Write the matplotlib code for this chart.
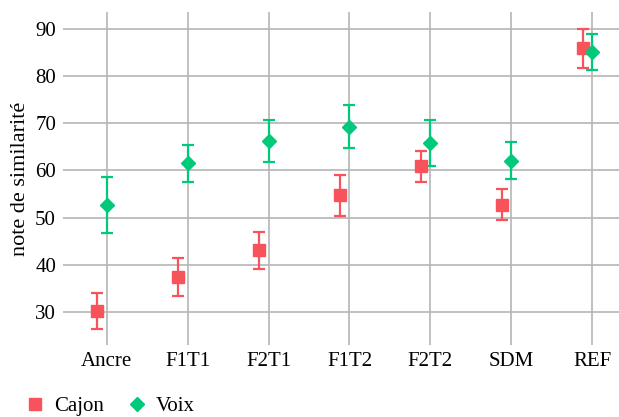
import matplotlib
matplotlib.use('Agg')
import matplotlib.pyplot as plt
import numpy as np

plt.rcParams['font.family'] = ['Liberation Serif', 'DejaVu Serif']

categories = ['Ancre', 'F1T1', 'F2T1', 'F1T2', 'F2T2', 'SDM', 'REF']
cajon_mean = [30.2, 37.4, 43.1, 54.7, 60.9, 52.7, 85.9]
cajon_err = [3.8, 4.0, 3.9, 4.4, 3.3, 3.3, 4.2]
voix_mean = [52.7, 61.5, 66.3, 69.3, 65.8, 62.1, 85.1]
voix_err = [6.0, 3.9, 4.4, 4.5, 4.85, 3.85, 3.9]

red = '#F8535A'
green = '#00C979'
LW = 1.6

fig = plt.figure(figsize=(6.19, 4.17), dpi=100)
ax = fig.add_axes([63/619, 1-345/417, 1-63/619, 333/417])

x = np.arange(len(categories))
ax.errorbar(x-0.12, cajon_mean, yerr=cajon_err, fmt='s', color=red, ms=9,
            ecolor=red, elinewidth=LW, capsize=4, capthick=LW, label='Cajon', zorder=3)
ax.errorbar(x, voix_mean, yerr=voix_err, fmt='D', color=green, ms=7.5,
            ecolor=green, elinewidth=LW, capsize=4, capthick=LW, label='Voix', zorder=3)

ax.set_xlim(-0.54, 6.33)
ax.set_ylim(23.0, 93.6)
ax.set_xticks(x)
ax.set_xticklabels(categories)
ax.set_yticks([30, 40, 50, 60, 70, 80, 90])
ax.tick_params(axis='both', length=0, labelsize=15, pad=5, colors='black')
ax.grid(True, color='#b5b5b5', linewidth=1.2)
ax.set_axisbelow(True)
for s in ax.spines.values():
    s.set_visible(False)
ax.set_ylabel('note de similarité', fontsize=16, labelpad=4)

h, l = ax.get_legend_handles_labels()
h = [hh[0] for hh in h]
fig.legend(h, l, loc='center left', bbox_to_anchor=(0.02, 1 - 406/417), ncol=2,
           frameon=False, fontsize=15, handletextpad=0.3, columnspacing=1.0,
           handlelength=1.2, borderpad=0)

fig.savefig('out.png', dpi=100)
